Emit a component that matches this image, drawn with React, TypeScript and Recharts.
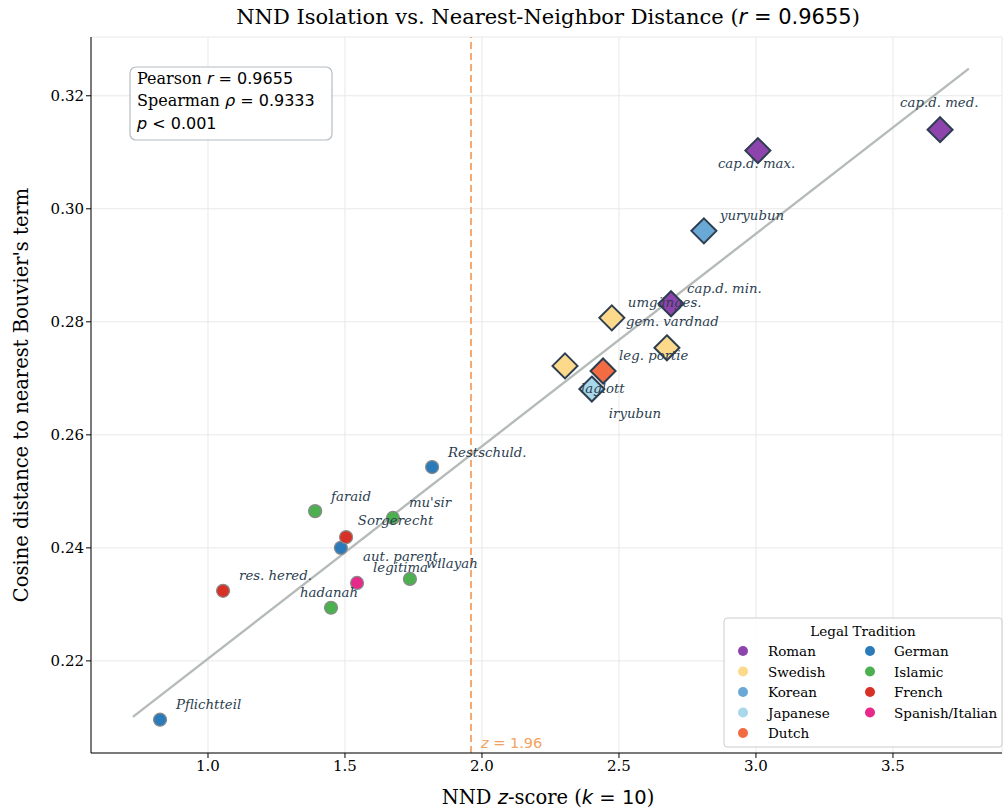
import React from "react";
import { ScatterChart, Scatter, XAxis, YAxis, CartesianGrid, ReferenceLine } from "recharts";

const traditions = ["Roman", "Swedish", "Korean", "Japanese", "Dutch", "German", "Islamic", "French", "Spanish/Italian"];

const traditionColors: Record<string, string> = {
  Roman: "#8e44ad",
  Swedish: "#fdd98c",
  Korean: "#6aa9d6",
  Japanese: "#a8d8ea",
  Dutch: "#f26b43",
  German: "#2b7bba",
  Islamic: "#4caf50",
  French: "#d73027",
  "Spanish/Italian": "#e7298a",
};

// traditions drawn as large diamonds (target-side terms)
const diamondTraditions = ["Roman", "Swedish", "Korean", "Japanese", "Dutch"];

const termNames = [
  "cap.d. med.", "cap.d. max.", "cap.d. min.",
  "umgänges.", "gem. vardnad", "laglott",
  "yuryubun", "iryubun", "leg. portie",
  "Restschuld.", "Sorgerecht", "Pflichtteil",
  "faraid", "mu'sir", "wilayah", "hadanah",
  "aut. parent.", "res. hered.", "legitima",
];
const termTradition = [
  "Roman", "Roman", "Roman",
  "Swedish", "Swedish", "Swedish",
  "Korean", "Japanese", "Dutch",
  "German", "German", "German",
  "Islamic", "Islamic", "Islamic", "Islamic",
  "French", "French", "Spanish/Italian",
];
const nndZ = [
  3.672, 3.007, 2.69,
  2.474, 2.675, 2.303,
  2.81, 2.401, 2.442,
  1.818, 1.485, 0.825,
  1.391, 1.675, 1.737, 1.449,
  1.504, 1.055, 1.544,
];
const cosDist = [
  0.314, 0.3103, 0.2832,
  0.2807, 0.2754, 0.2722,
  0.2961, 0.2681, 0.2713,
  0.2543, 0.24, 0.2096,
  0.2465, 0.2453, 0.2345, 0.2294,
  0.2419, 0.2324, 0.2338,
];

// regression fit end points
const fitX = [0.726, 3.777];
const fitY = [0.2101, 0.3248];

const xTicks = [1.0, 1.5, 2.0, 2.5, 3.0, 3.5];
const yTicks = [0.22, 0.24, 0.26, 0.28, 0.3, 0.32];

// label offsets in px (text start, vertical center) relative to the marker
const labelOffset: Record<string, [number, number]> = {
  "cap.d. med.": [-40, -27],
  "cap.d. max.": [-40, 13],
  "gem. vardnad": [-41, -26],
  laglott: [16, 23],
  iryubun: [17, 24],
  Sorgerecht: [17, -27],
  hadanah: [-31, -15],
  "aut. parent.": [17, 19],
};

const points = termNames.map((name, i) => ({ name, tradition: termTradition[i], x: nndZ[i], y: cosDist[i] }));

const SERIF = "'DejaVu Serif', serif";
const SANS = "'DejaVu Sans', sans-serif";
const INK = "#2c3e50";

const Diamond = (props: any) => {
  const { cx, cy, payload } = props;
  const s = 12.5;
  return (
    <path
      d={`M${cx},${cy - s} L${cx + s},${cy} L${cx},${cy + s} L${cx - s},${cy} Z`}
      fill={traditionColors[payload.tradition]}
      stroke={INK}
      strokeWidth={2}
      strokeLinejoin="miter"
    />
  );
};

const Dot = (props: any) => {
  const { cx, cy, payload } = props;
  return <circle cx={cx} cy={cy} r={6.5} fill={traditionColors[payload.tradition]} stroke="#8a8a8a" strokeWidth={1.2} />;
};

const Label = (props: any) => {
  const { cx, cy, payload } = props;
  const off = labelOffset[payload.name] || [16, -15];
  return (
    <text x={cx + off[0]} y={cy + off[1]} dominantBaseline="central" fontFamily={SERIF} fontStyle="italic" fontSize={13.3} fill={INK}>
      {payload.name}
    </text>
  );
};

const StatsBox = () => (
  <g>
    <rect x={130} y={67} width={202} height={73} rx={6} fill="#fff" fillOpacity={0.9} stroke="#b5bcc2" strokeWidth={1.2} />
    <text x={137} y={84} fontSize={16} fontFamily={SERIF} fill="#000">
      Pearson <tspan fontFamily={SANS} fontStyle="italic">r</tspan>
      <tspan fontFamily={SANS}> = 0.9655</tspan>
    </text>
    <text x={137} y={106} fontSize={16} fontFamily={SERIF} fill="#000">
      Spearman <tspan fontFamily={SANS} fontStyle="italic">ρ</tspan>
      <tspan fontFamily={SANS}> = 0.9333</tspan>
    </text>
    <text x={137} y={129} fontSize={16} fontFamily={SANS} fill="#000">
      <tspan fontStyle="italic">p</tspan> &lt; 0.001
    </text>
  </g>
);

const LegendBox = () => {
  const col1 = traditions.slice(0, 5);
  const col2 = traditions.slice(5);
  const rowY = (i: number) => 651 + i * 20.5;
  return (
    <g>
      <rect x={724} y={618} width={278} height={129} rx={3} fill="#fff" fillOpacity={0.9} stroke="#cccccc" strokeWidth={1} />
      <text x={863} y={631} textAnchor="middle" dominantBaseline="central" fontSize={13.5} fontFamily={SERIF} fill="#000">
        Legal Tradition
      </text>
      {col1.map((t, i) => (
        <g key={t}>
          <circle cx={743} cy={rowY(i)} r={5} fill={traditionColors[t]} />
          <text x={768} y={rowY(i)} dominantBaseline="central" fontSize={13.5} fontFamily={SERIF} fill="#000">{t}</text>
        </g>
      ))}
      {col2.map((t, i) => (
        <g key={t}>
          <circle cx={870} cy={rowY(i)} r={5} fill={traditionColors[t]} />
          <text x={894} y={rowY(i)} dominantBaseline="central" fontSize={13.5} fontFamily={SERIF} fill="#000">{t}</text>
        </g>
      ))}
    </g>
  );
};

const ZLabel = (props: any) => {
  const { viewBox } = props;
  return (
    <text x={viewBox.x + 10} y={viewBox.y + viewBox.height - 10} dominantBaseline="central" fontSize={14.5} fontFamily={SANS} fill="#f4a261">
      <tspan fontStyle="italic">z</tspan> = 1.96
    </text>
  );
};

export default function App() {
  const circles = points.filter(p => !diamondTraditions.includes(p.tradition));
  const diamonds = points.filter(p => diamondTraditions.includes(p.tradition));
  return (
    <div style={{ position: "absolute", left: 0, top: 0, width: 1003, height: 811, background: "#fff" }}>
      <svg width={1003} height={40} style={{ position: "absolute", left: 0, top: 0 }}>
        <text x={548} y={17} textAnchor="middle" dominantBaseline="central" fontSize={21} fontFamily={SERIF} fill="#000">
          NND Isolation vs. Nearest-Neighbor Distance (<tspan fontFamily={SANS} fontStyle="italic">r</tspan>
          <tspan fontFamily={SANS}> = 0.9655</tspan>)
        </text>
      </svg>
      <div style={{ position: "absolute", left: 0, top: 0 }}>
        <ScatterChart width={1003} height={811} margin={{ top: 37, right: 1, bottom: 0, left: 0 }}>
          <CartesianGrid stroke="#e8e8e8" strokeWidth={1} />
          <XAxis
            type="number"
            dataKey="x"
            domain={[0.573, 3.898]}
            ticks={xTicks}
            tickFormatter={(v: number) => v.toFixed(1)}
            height={58}
            stroke="#000"
            tickSize={5}
            tick={{ fontSize: 15, fontFamily: SERIF, fill: "#000" }}
            allowDataOverflow
          />
          <YAxis
            type="number"
            dataKey="y"
            domain={[0.2037, 0.3304]}
            ticks={yTicks}
            tickFormatter={(v: number) => v.toFixed(2)}
            width={91}
            stroke="#000"
            tickSize={5}
            tick={{ fontSize: 15, fontFamily: SERIF, fill: "#000" }}
            allowDataOverflow
          />
          <ReferenceLine
            segment={[{ x: fitX[0], y: fitY[0] }, { x: fitX[1], y: fitY[1] }]}
            stroke="#b5bbb8"
            strokeWidth={2.4}
          />
          <ReferenceLine x={1.96} stroke="#f4a261" strokeWidth={1.8} strokeDasharray="7 4" label={<ZLabel />} />
          <Scatter data={circles} shape={<Dot />} isAnimationActive={false} />
          <Scatter data={diamonds} shape={<Diamond />} isAnimationActive={false} />
          <Scatter data={points} shape={<Label />} isAnimationActive={false} />
          <StatsBox />
          <LegendBox />
        </ScatterChart>
      </div>
      <svg width={1003} height={811} style={{ position: "absolute", left: 0, top: 0, pointerEvents: "none" }}>
        <text x={548} y={797} textAnchor="middle" dominantBaseline="central" fontSize={19.5} fontFamily={SERIF} fill="#000">
          NND <tspan fontFamily={SANS} fontStyle="italic">z</tspan>-score (<tspan fontFamily={SANS} fontStyle="italic">k</tspan>
          <tspan fontFamily={SANS}> = 10</tspan>)
        </text>
        <text
          x={21}
          y={395}
          textAnchor="middle"
          dominantBaseline="central"
          fontSize={19.5}
          fontFamily={SERIF}
          fill="#000"
          transform="rotate(-90 21 395)"
        >
          Cosine distance to nearest Bouvier's term
        </text>
      </svg>
    </div>
  );
}
